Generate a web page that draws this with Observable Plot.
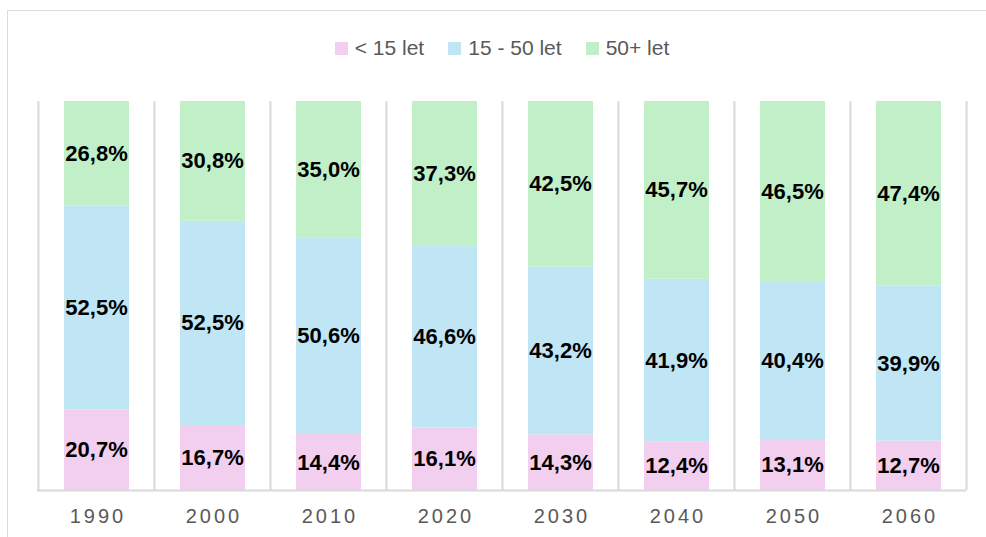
<!DOCTYPE html>
<html>
<head>
<meta charset="utf-8">
<script src="https://cdn.jsdelivr.net/npm/d3@7"></script>
<script src="https://cdn.jsdelivr.net/npm/@observablehq/plot@0.6"></script>
<style>
  html, body { margin: 0; padding: 0; background: #fff; }
  #wrap { position: relative; width: 986px; height: 537px; overflow: hidden; font-family: "Liberation Sans", Arial, sans-serif; }
  #border { position: absolute; left: 7px; top: 10px; width: 1100px; height: 700px; border: 1.5px solid #dcdcdc; box-sizing: border-box; }
  #legend { position: absolute; left: 0; top: 33px; width: 1004px; height: 30px; display: flex; justify-content: center; align-items: center; font-size: 21px; color: #595959; }
  #legend .item { display: flex; align-items: center; margin: 0 12px; }
  #legend .sw { width: 13px; height: 13px; margin-right: 7px; }
  #chart { position: absolute; left: 0; top: 80px; }
  g[aria-label="x-axis tick label"] text { letter-spacing: 3px; }
</style>
</head>
<body>
<div id="wrap">
  <div id="border"></div>
  <div id="legend"></div>
  <div id="chart"></div>
</div>
<script>
const years = ["1990", "2000", "2010", "2020", "2030", "2040", "2050", "2060"];
const groups = ["< 15 let", "15 - 50 let", "50+ let"];
const under15 = [20.7, 16.7, 14.4, 16.1, 14.3, 12.4, 13.1, 12.7];
const age15to50 = [52.5, 52.5, 50.6, 46.6, 43.2, 41.9, 40.4, 39.9];
const over50 = [26.8, 30.8, 35.0, 37.3, 42.5, 45.7, 46.5, 47.4];
const colors = ["#F2CEEF", "#C0E6F5", "#C1F0C8"];

const series = [under15, age15to50, over50];
const data = [];
series.forEach((vals, gi) => {
  vals.forEach((v, yi) => data.push({year: years[yi], group: groups[gi], value: v}));
});

// legend
const legend = document.getElementById("legend");
groups.forEach((g, i) => {
  const item = document.createElement("div");
  item.className = "item";
  const sw = document.createElement("div");
  sw.className = "sw";
  sw.style.background = colors[i];
  const t = document.createElement("span");
  t.textContent = g;
  item.appendChild(sw);
  item.appendChild(t);
  legend.appendChild(item);
});

const W = 986, H = 457, ml = 37, mr = 20, mt = 21, mb = 47;
const bw = (W - ml - mr) / years.length;
const fmt = v => v.toFixed(1).replace(".", ",") + "%";

const chart = Plot.plot({
  width: W,
  height: H,
  marginLeft: ml,
  marginRight: mr,
  marginTop: mt,
  marginBottom: mb,
  style: {fontFamily: '"Liberation Sans", Arial, sans-serif', background: "transparent"},
  x: {domain: years, padding: 0, label: null},
  y: {domain: [0, 100], axis: null},
  color: {domain: groups, range: colors},
  marks: [
    Plot.ruleX(years, {x: d => d, y1: 0, y2: 100, dx: -bw / 2, stroke: "#d9d9d9", strokeWidth: 2}),
    Plot.ruleX([years[years.length - 1]], {x: d => d, y1: 0, y2: 100, dx: bw / 2, stroke: "#d9d9d9", strokeWidth: 2}),
    Plot.barY(data, Plot.stackY({x: "year", y: "value", z: "group", fill: "group", insetLeft: 26, insetRight: 25})),
    Plot.ruleY([0], {stroke: "#d9d9d9", strokeWidth: 2}),
    Plot.text(data, Plot.stackY({x: "year", y: "value", z: "group", text: d => fmt(d.value), fill: "#000", fontWeight: "bold", fontSize: 22})),
    Plot.axisX({tickSize: 0, tickPadding: 18, fontSize: 20, fill: "#595959", dx: 1.5})
  ]
});
document.getElementById("chart").appendChild(chart);
</script>
</body>
</html>
